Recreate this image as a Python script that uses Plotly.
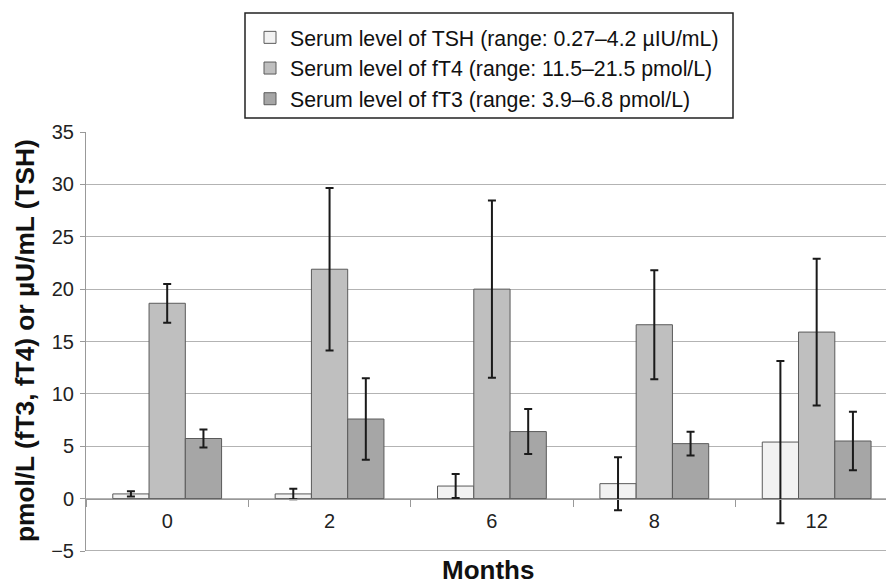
import plotly.graph_objects as go

months = ["0", "2", "6", "8", "12"]

tsh_mean = [0.45, 0.45, 1.2, 1.43, 5.4]
tsh_err = [0.25, 0.5, 1.15, 2.53, 7.75]

ft4_mean = [18.65, 21.9, 20.0, 16.6, 15.9]
ft4_err = [1.85, 7.75, 8.45, 5.2, 7.0]

ft3_mean = [5.74, 7.6, 6.4, 5.25, 5.5]
ft3_err = [0.86, 3.9, 2.15, 1.13, 2.8]

series_names = [
    "Serum level of TSH (range: 0.27–4.2 µIU/mL)",
    "Serum level of fT4 (range: 11.5–21.5 pmol/L)",
    "Serum level of fT3 (range: 3.9–6.8 pmol/L)",
]
series_colors = ["#f2f2f2", "#bfbfbf", "#a6a6a6"]

y_title = "pmol/L (fT3, fT4) or µU/mL (TSH)"
x_title = "Months"

FONT = "Arial, Liberation Sans, sans-serif"

fig = go.Figure()
for name, color, vals, errs in zip(series_names, series_colors,
                                   [tsh_mean, ft4_mean, ft3_mean],
                                   [tsh_err, ft4_err, ft3_err]):
    fig.add_trace(go.Bar(
        x=months, y=vals, name=name,
        marker=dict(color=color, line=dict(color="#5a5a5a", width=1)),
        error_y=dict(type="data", array=errs, visible=True,
                     color="#1a1a1a", thickness=2, width=4),
    ))

# plot area in pixels: left 86, right 886, top 132, bottom 551
PW, PH = 800.0, 419.0
def px(x):
    return (x - 86) / PW
def py(y):
    return (551 - y) / PH

fig.update_layout(
    width=886, height=582,
    margin=dict(l=86, r=0, t=132, b=31, autoexpand=False),
    plot_bgcolor="white", paper_bgcolor="white",
    barmode="group", bargap=0.33, bargroupgap=0,
    font=dict(family=FONT, size=20, color="#222"),
    showlegend=True,
    legend=dict(
        x=px(250), y=py(17), xanchor="left", yanchor="top",
        borderwidth=0, bgcolor="rgba(0,0,0,0)",
        font=dict(family=FONT, size=21.3, color="#111"),
        traceorder="normal",
    ),
    xaxis=dict(
        type="category", range=[-0.5, 4.427],
        anchor="free", position=0.125,
        showline=True, linecolor="#999", linewidth=1,
        ticks="outside", tickson="boundaries", ticklen=7, tickcolor="#999",
        ticklabelstandoff=4,
        showgrid=False, tickfont=dict(size=20, color="#222"),
    ),
    yaxis=dict(
        range=[-5, 35], tick0=0, dtick=5,
        showgrid=True, gridcolor="#b3b3b3", gridwidth=1,
        zeroline=False,
        showline=True, linecolor="#999", linewidth=1,
        ticks="outside", ticklen=5, tickcolor="#999",
        ticklabelstandoff=2,
        tickfont=dict(size=20, color="#222"),
    ),
    shapes=[
        dict(type="rect", xref="paper", yref="paper",
             x0=px(245), x1=px(733), y0=py(118), y1=py(13),
             line=dict(color="#222", width=1.5), fillcolor="rgba(0,0,0,0)"),
        dict(type="line", xref="paper", yref="y",
             x0=0, x1=1, y0=-5, y1=-5,
             line=dict(color="#999", width=1.5)),
    ],
    annotations=[
        dict(text="<b>" + y_title + "</b>", xref="paper", yref="paper",
             x=px(25), y=py(341), xanchor="center", yanchor="middle",
             textangle=-90, showarrow=False,
             font=dict(family=FONT, size=26.3, color="#111")),
        dict(text="<b>" + x_title + "</b>", xref="paper", yref="paper",
             x=px(488), y=py(570), xanchor="center", yanchor="middle",
             showarrow=False,
             font=dict(family=FONT, size=26, color="#111")),
    ],
)

fig.write_html("out.html",
               config={"displayModeBar": False},
               post_script="document.body.style.margin='0';document.body.style.overflow='hidden';")
